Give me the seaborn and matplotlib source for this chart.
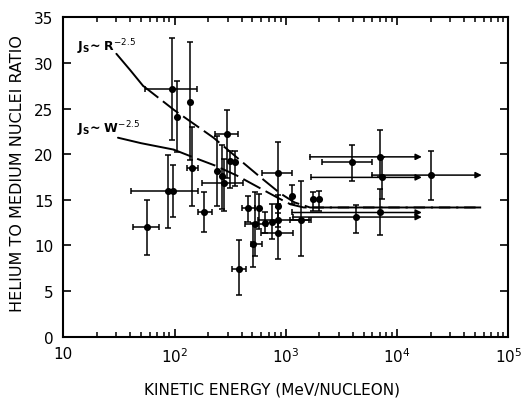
import numpy as np
import pandas as pd
import matplotlib
matplotlib.use("Agg")
import matplotlib.pyplot as plt
import seaborn as sns

# ---- data ----
energy = [57, 87, 96, 94, 106, 138, 143, 185, 239, 265, 278, 298, 315, 350, 376,
          460, 511, 531, 580, 650, 747, 850, 850, 850, 850, 1143, 1378, 1767, 2000,
          3960, 7030, 7280, 20200, 4250, 7030]
ratio = [12.0, 16.0, 16.0, 27.1, 24.1, 25.7, 18.5, 13.6, 18.2, 17.6, 16.8, 22.2, 19.3, 19.1, 7.4,
         14.1, 10.1, 12.3, 14.1, 12.5, 12.6, 17.9, 14.3, 12.8, 11.3, 15.4, 12.8, 15.05, 15.1,
         19.1, 19.7, 17.45, 17.7, 13.1, 13.6]
e_low = [42, 41, np.nan, 54, np.nan, np.nan, 129, 161, np.nan, np.nan, 178, 231, np.nan, np.nan, 326,
         403, 483, 431, np.nan, np.nan, np.nan, 605, np.nan, 565, 597, np.nan, 1100, np.nan, np.nan,
         2120, 1644, 1687, 5920, 1150, 1140]
e_high = [73, 161, np.nan, 158, np.nan, np.nan, 161, 217, np.nan, np.nan, 410, 374, np.nan, np.nan, 441,
          526, 605, 673, np.nan, np.nan, np.nan, 1140, np.nan, 1620, 1157, np.nan, 1680, np.nan, np.nan,
          5940, 16700, 16700, 57700, 16700, 16700]
r_low = [8.9, 11.9, 13.1, 21.6, 20.2, 19.4, 14.3, 11.5, 14.3, 14.0, 13.8, 17.4, 16.3, 16.5, 4.5,
         12.6, 7.6, 8.8, 11.8, 11.4, 10.7, 14.5, 12.6, 12.0, 8.5, 14.5, 8.8, 13.8, 13.8,
         17.0, 17.5, 15.1, 15.0, 11.4, 11.1]
r_high = [15.0, 19.9, 18.8, 32.7, 28.0, 32.3, 23.0, 15.9, 22.0, 21.0, 19.5, 24.8, 20.3, 20.3, 10.6,
          15.4, 12.5, 15.8, 15.6, 13.7, 14.5, 21.3, 15.5, 13.5, 14.2, 16.6, 17.0, 15.9, 16.0,
          21.0, 22.6, 19.7, 20.3, 14.4, 16.2]
open_ended = [False] * 30 + [True] * 5

# model curves
curve_r_energy = [30, 40, 52, 100, 224, 374, 600, 890, 1200, 1650, 57000]
curve_r_ratio = [31.0, 29.2, 27.5, 24.8, 21.8, 19.5, 17.4, 15.7, 14.7, 14.15, 14.15]
curve_w_energy = [31, 50, 98, 151, 231, 363, 600, 850, 1100, 1450, 57000]
curve_w_ratio = [21.8, 21.2, 20.5, 19.6, 18.75, 17.65, 16.2, 15.2, 14.5, 14.15, 14.15]

x_ticks = [10, 100, 1000, 10000, 100000]
x_tick_labels = ["10", r"$10^2$", r"$10^3$", r"$10^4$", r"$10^5$"]
y_ticks = [0, 5, 10, 15, 20, 25, 30, 35]
y_tick_labels = ["0", "5", "10", "15", "20", "25", "30", "35"]

# ---- figure ----
sns.set_style("ticks")
plt.rcParams["font.family"] = ["DejaVu Sans"]
plt.rcParams["mathtext.fontset"] = "dejavusans"
plt.rcParams["text.color"] = "black"
plt.rcParams["axes.labelcolor"] = "black"
plt.rcParams["xtick.color"] = "black"
plt.rcParams["ytick.color"] = "black"

fig = plt.figure(figsize=(5.32, 4.02), dpi=100)
ax = fig.add_axes([0.119, 0.1604, 0.8365, 0.794])

df = pd.DataFrame({"energy": energy, "ratio": ratio, "e_low": e_low, "e_high": e_high,
                   "r_low": r_low, "r_high": r_high, "open": open_ended})

# vertical error bars
ax.errorbar(df["energy"], df["ratio"],
            yerr=[df["ratio"] - df["r_low"], df["r_high"] - df["ratio"]],
            fmt="none", ecolor="black", elinewidth=1.1, capsize=2.5, capthick=1.1, zorder=3)

# closed horizontal bars
closed = df[(~df["open"]) & df["e_low"].notna()]
ax.errorbar(closed["energy"], closed["ratio"],
            xerr=[closed["energy"] - closed["e_low"], closed["e_high"] - closed["energy"]],
            fmt="none", ecolor="black", elinewidth=1.1, capsize=2.5, capthick=1.1, zorder=3)

# open-ended horizontal bars (arrows)
opn = df[df["open"]]
for _, row in opn.iterrows():
    ax.annotate("", xy=(row["e_high"], row["ratio"]), xytext=(row["e_low"], row["ratio"]),
                arrowprops=dict(arrowstyle="-|>", color="black", lw=1.1,
                                mutation_scale=9, shrinkA=0, shrinkB=0), zorder=3)
ax.plot(opn["e_low"], opn["ratio"], linestyle="none", marker="|", markersize=5,
        markeredgewidth=1.1, color="black", zorder=3)

# points
sns.scatterplot(data=df, x="energy", y="ratio", color="black", s=26, edgecolor="black",
                linewidth=0, zorder=4, ax=ax, legend=False)

# model curves: solid start then dashed
cr = pd.DataFrame({"energy": curve_r_energy, "ratio": curve_r_ratio})
cw = pd.DataFrame({"energy": curve_w_energy, "ratio": curve_w_ratio})
sns.lineplot(data=cr[cr["energy"] <= 52], x="energy", y="ratio", sort=False,
             color="black", lw=1.4, ax=ax, zorder=2)
l1 = sns.lineplot(data=cr[cr["energy"] >= 52], x="energy", y="ratio", sort=False,
                  color="black", lw=1.4, ax=ax, zorder=2).lines[-1]
l1.set_dashes((10, 3))
sns.lineplot(data=cw[cw["energy"] <= 98], x="energy", y="ratio", sort=False,
             color="black", lw=1.4, ax=ax, zorder=2)
l2 = sns.lineplot(data=cw[cw["energy"] >= 98], x="energy", y="ratio", sort=False,
                  color="black", lw=1.4, ax=ax, zorder=2).lines[-1]
l2.set_dashes((10, 3))

ax.text(13.3, 31.4, r"J$_\mathregular{S}$~ R$^{-2.5}$", fontsize=9, fontweight="bold",
        ha="left", va="baseline", color="black")
ax.text(13.3, 22.4, r"J$_\mathregular{S}$~ W$^{-2.5}$", fontsize=9, fontweight="bold",
        ha="left", va="baseline", color="black")

# axes
ax.set_xscale("log")
ax.set_xlim(10, 100000)
ax.set_ylim(0, 35)
ax.set_xticks(x_ticks)
ax.set_xticklabels(x_tick_labels)
ax.set_yticks(y_ticks)
ax.set_yticklabels(y_tick_labels)
ax.xaxis.set_minor_locator(matplotlib.ticker.LogLocator(base=10, subs=np.arange(2, 10)))
ax.xaxis.set_minor_formatter(matplotlib.ticker.NullFormatter())
ax.tick_params(axis="both", which="major", direction="in", length=6, width=1.2,
               top=True, right=True, labelsize=11, pad=7, color="black", labelcolor="black")
ax.tick_params(axis="x", which="minor", direction="in", length=3.5, width=1.1,
               top=True, bottom=True, color="black")
for s in ax.spines.values():
    s.set_linewidth(1.5)
    s.set_color("black")
    s.set_visible(True)

ax.set_xlabel("KINETIC ENERGY (MeV/NUCLEON)", fontsize=11, color="black")
ax.set_ylabel("HELIUM TO MEDIUM NUCLEI RATIO", fontsize=11.5, color="black")
ax.xaxis.set_label_coords(0.47, -0.142)
ax.yaxis.set_label_coords(-0.087, 0.514)

fig.savefig("out.png", dpi=100)
